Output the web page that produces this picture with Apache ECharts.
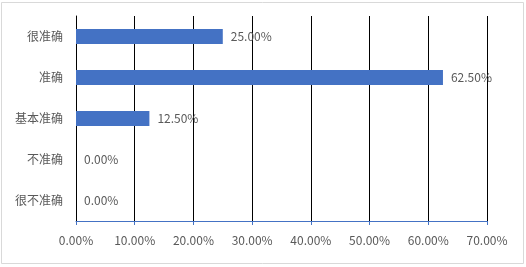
<!DOCTYPE html>
<html>
<head>
<meta charset="utf-8">
<script src="https://cdn.jsdelivr.net/npm/echarts@6/dist/echarts.min.js"></script>
<style>
    html, body { margin: 0; padding: 0; background: #fff; }
    #mychart { width: 526px; height: 267px; }
</style>
</head>
<body>
<div id="mychart"></div>
<script>
    // 类别 / 数值（百分比）
    var categories = ["很准确", "准确", "基本准确", "不准确", "很不准确"];
    var values = [25, 62.5, 12.5, 0, 0];
    var axisMax = 70;
    var axisStep = 10;

    var chart = echarts.init(document.getElementById("mychart"));
    var font = "'Noto Sans CJK SC', 'Microsoft YaHei', sans-serif";

    chart.setOption({
        animation: false,
        backgroundColor: "#fff",
        graphic: [{
            type: "rect",
            shape: { x: 1.5, y: 2.5, width: 522, height: 261 },
            style: { fill: "none", stroke: "#d9d9d9", lineWidth: 1 }
        }],
        grid: { left: 76, right: 39, top: 16, bottom: 46 },
        xAxis: {
            type: "value",
            min: 0,
            max: axisMax,
            interval: axisStep,
            axisLine: { show: true, lineStyle: { color: "#4472c4", width: 1 } },
            axisTick: { show: true, length: 4, lineStyle: { color: "#4472c4" } },
            splitLine: { show: true, lineStyle: { color: "#000", width: 1 } },
            axisLabel: {
                color: "#595959",
                fontSize: 12,
                fontFamily: font,
                margin: 13,
                formatter: function (v) { return v.toFixed(2) + "%"; }
            }
        },
        yAxis: {
            type: "category",
            data: categories,
            inverse: true,
            axisLine: { show: true, lineStyle: { color: "#000", width: 1 } },
            axisTick: { show: false },
            axisLabel: { color: "#595959", fontSize: 12, fontFamily: font, margin: 13 }
        },
        series: [{
            type: "bar",
            data: values,
            barWidth: 15,
            itemStyle: { color: "#4472c4" },
            label: {
                show: true,
                position: "right",
                distance: 8,
                color: "#595959",
                fontSize: 12,
                fontFamily: font,
                formatter: function (p) { return p.value.toFixed(2) + "%"; }
            }
        }]
    });
</script>
</body>
</html>
